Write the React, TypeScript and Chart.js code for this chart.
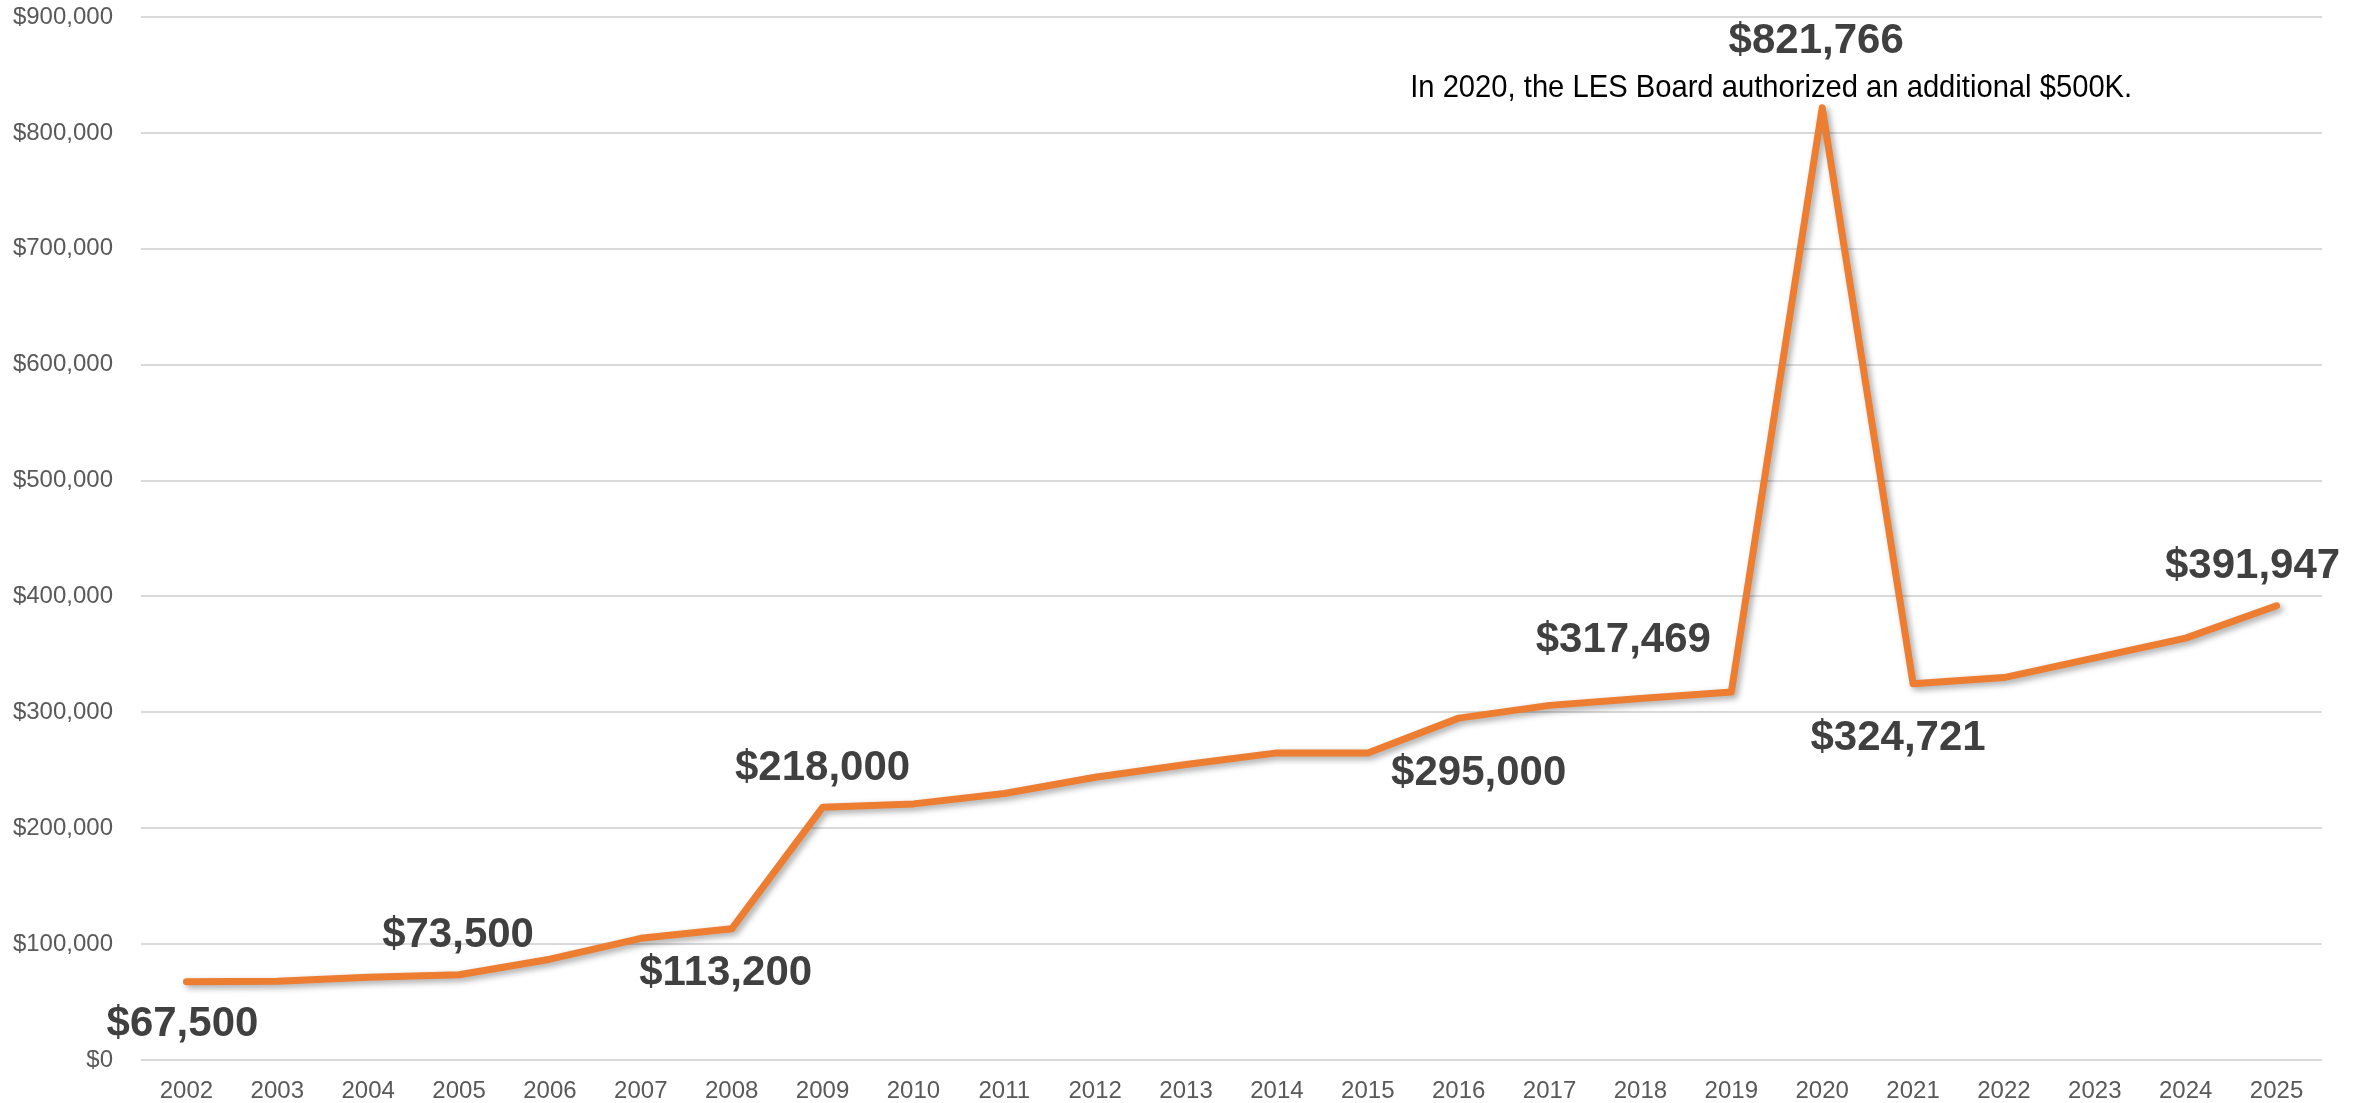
import React, { useEffect, useRef } from "react";
import { Chart, registerables } from "chart.js";

Chart.register(...registerables);

const years = [
  "2002", "2003", "2004", "2005", "2006", "2007", "2008", "2009", "2010", "2011", "2012", "2013",
  "2014", "2015", "2016", "2017", "2018", "2019", "2020", "2021", "2022", "2023", "2024", "2025",
];

const funding = [
  67500, 68000, 71500, 73500, 87000, 105000, 113200, 218000, 221000, 230000, 244000, 255000,
  265000, 265000, 295000, 306000, 312000, 317469, 821766, 324721, 330000, 347000, 364000, 391947,
];

const labeledYears = ["2002", "2005", "2008", "2009", "2016", "2019", "2020", "2021", "2025"];

const yMax = 900000;
const yStep = 100000;

const annotationYear = "2020";
const annotationText = "In 2020, the LES Board authorized an additional $500K.";

// pixel offsets of each value label from its point (presentation only)
const labelOffsets: Record<string, [number, number]> = {
  "2002": [-4, 43],
  "2005": [-1, -39],
  "2008": [-6, 45],
  "2009": [0, -39],
  "2016": [20, 55],
  "2019": [-108, -52],
  "2020": [-6, -66],
  "2021": [-15, 55],
  "2025": [-24, -39],
};
const annotationOffset: [number, number] = [-51, -19];

const FONT = '"Liberation Sans", Arial, sans-serif';
const fmt = (v: number) => "$" + Math.round(v).toLocaleString("en-US");

const labelPlugin = {
  id: "valueLabels",
  beforeDatasetsDraw(chart: any) {
    const ctx = chart.ctx;
    ctx.save();
    ctx.shadowColor = "rgba(0,0,0,0.35)";
    ctx.shadowBlur = 6;
    ctx.shadowOffsetX = 3;
    ctx.shadowOffsetY = 3;
  },
  afterDatasetsDraw(chart: any) {
    const ctx = chart.ctx;
    ctx.restore();
    const meta = chart.getDatasetMeta(0);
    ctx.save();
    ctx.textAlign = "center";
    ctx.textBaseline = "middle";
    ctx.fillStyle = "#404040";
    ctx.font = `bold 42px ${FONT}`;
    labeledYears.forEach((yr) => {
      const i = years.indexOf(yr);
      const pt = meta.data[i];
      const off = labelOffsets[yr] || [0, -42];
      ctx.fillText(fmt(funding[i]), pt.x + off[0], pt.y + off[1]);
    });
    const ai = years.indexOf(annotationYear);
    const ap = meta.data[ai];
    ctx.font = `32px ${FONT}`;
    ctx.fillStyle = "#000000";
    const w = ctx.measureText(annotationText).width;
    const sx = 722 / w;
    ctx.translate(ap.x + annotationOffset[0], ap.y + annotationOffset[1]);
    ctx.scale(sx, 1);
    ctx.fillText(annotationText, 0, 0);
    ctx.restore();
  },
};

export default function App() {
  const ref = useRef<HTMLCanvasElement | null>(null);
  useEffect(() => {
    if (!ref.current) return;
    const chart = new Chart(ref.current, {
      type: "line",
      data: {
        labels: years,
        datasets: [
          {
            data: funding,
            borderColor: "#ED7D31",
            borderWidth: 7,
            borderCapStyle: "round",
            borderJoinStyle: "round",
            pointRadius: 0,
            pointHoverRadius: 0,
            tension: 0,
            fill: false,
          },
        ],
      },
      options: {
        animation: false,
        responsive: false,
        devicePixelRatio: 1,
        layout: { padding: { top: 17, right: 49, left: 0, bottom: 0 } },
        plugins: {
          legend: { display: false },
          tooltip: { enabled: false },
          title: { display: false },
        },
        scales: {
          x: {
            offset: true,
            grid: { display: false },
            border: { display: false },
            ticks: {
              color: "#595959",
              font: { family: FONT, size: 24 },
              padding: 9,
              maxRotation: 0,
              autoSkip: false,
            },
            afterFit: (s: any) => {
              s.height = 43;
            },
          },
          y: {
            min: 0,
            max: yMax,
            border: { display: false },
            grid: { color: "#D9D9D9", lineWidth: 2, drawTicks: false },
            ticks: {
              stepSize: yStep,
              color: "#595959",
              font: { family: FONT, size: 24 },
              padding: 28,
              callback: (v: any) => fmt(Number(v)),
            },
            afterFit: (s: any) => {
              s.width = 141;
              s.paddingTop = 0;
              s.paddingBottom = 0;
            },
          },
        },
      },
      plugins: [labelPlugin],
    });
    return () => chart.destroy();
  }, []);
  return (
    <div style={{ position: "absolute", left: 0, top: 0, width: 2371, height: 1103, background: "#fff" }}>
      <canvas ref={ref} width={2371} height={1103} style={{ display: "block" }} />
    </div>
  );
}
